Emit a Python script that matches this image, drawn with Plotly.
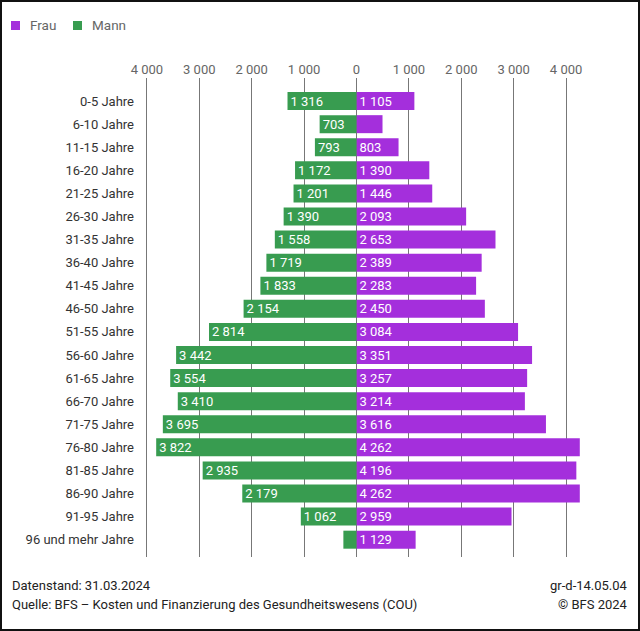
import plotly.graph_objects as go

categories = ["0-5 Jahre", "6-10 Jahre", "11-15 Jahre", "16-20 Jahre", "21-25 Jahre",
              "26-30 Jahre", "31-35 Jahre", "36-40 Jahre", "41-45 Jahre", "46-50 Jahre",
              "51-55 Jahre", "56-60 Jahre", "61-65 Jahre", "66-70 Jahre", "71-75 Jahre",
              "76-80 Jahre", "81-85 Jahre", "86-90 Jahre", "91-95 Jahre", "96 und mehr Jahre"]
mann = [1316, 703, 793, 1172, 1201, 1390, 1558, 1719, 1833, 2154,
        2814, 3442, 3554, 3410, 3695, 3822, 2935, 2179, 1062, 250]
frau = [1105, 497, 803, 1390, 1446, 2093, 2653, 2389, 2283, 2450,
        3084, 3351, 3257, 3214, 3616, 4262, 4196, 4262, 2959, 1129]
tick_vals = [-4000, -3000, -2000, -1000, 0, 1000, 2000, 3000, 4000, 5000]
tick_text = ["4 000", "3 000", "2 000", "1 000", "0", "1 000", "2 000", "3 000", "4 000", ""]
series_names = ["Frau", "Mann"]

GREEN = "#389c50"
PURPLE = "#a42fdc"
FONT = "Roboto"


def fmt(v):
    return f"{v:,}".replace(",", " ") if v >= 600 else ""


fig = go.Figure()
fig.add_trace(go.Bar(
    name=series_names[0], y=categories, x=frau, orientation="h",
    marker=dict(color=PURPLE, line=dict(width=0)),
    text=[fmt(v) for v in frau], textposition="inside", insidetextanchor="start",
    constraintext="none",
    textfont=dict(color="white", size=13, family=FONT), width=0.78,
    hoverinfo="skip", showlegend=False))
fig.add_trace(go.Bar(
    name=series_names[1], y=categories, x=[-v for v in mann], orientation="h",
    marker=dict(color=GREEN, line=dict(width=0)),
    text=[fmt(v) for v in mann], textposition="inside", insidetextanchor="end",
    constraintext="none",
    textfont=dict(color="white", size=13, family=FONT), width=0.78,
    hoverinfo="skip", showlegend=False))

L, R, T, B = 139, 619, 78, 557
W, H = 640, 631
pw, ph = R - L, B - T

def px(x):
    return (x - L) / pw

def py(y):
    return (B - y) / ph

shapes = [dict(type="rect", xref="paper", yref="paper", x0=px(1), x1=px(639), y0=py(630), y1=py(1),
               line=dict(color="#111", width=2), fillcolor="rgba(0,0,0,0)", layer="above")]
annotations = []
# custom legend (square swatches + labels)
for name, color, sx, tx in [(series_names[0], PURPLE, 11, 28), (series_names[1], GREEN, 73, 90)]:
    shapes.append(dict(type="rect", xref="paper", yref="paper", x0=px(sx), x1=px(sx + 9),
                       y0=py(30), y1=py(21), fillcolor=color, line=dict(width=0)))
    annotations.append(dict(text=name, x=px(tx), y=py(25.5), xref="paper", yref="paper",
                            xanchor="left", yanchor="middle", showarrow=False,
                            font=dict(size=13.5, color="#666")))

foot = dict(xref="paper", yref="paper", yanchor="middle", showarrow=False,
            font=dict(size=13, color="#222"))
annotations += [
    dict(text="Datenstand: 31.03.2024", x=px(10), y=py(585), xanchor="left", **foot),
    dict(text="Quelle: BFS – Kosten und Finanzierung des Gesundheitswesens (COU)", x=px(10), y=py(604),
         xanchor="left", **foot),
    dict(text="gr-d-14.05.04", x=px(630), y=py(585), xanchor="right", **foot),
    dict(text="© BFS 2024", x=px(630), y=py(604), xanchor="right", **foot),
]

fig.update_layout(
    width=W, height=H,
    margin=dict(l=L, r=W - R, t=T, b=H - B, pad=0),
    barmode="relative",
    paper_bgcolor="white", plot_bgcolor="white",
    font=dict(family=FONT, size=13, color="#333"),
    showlegend=False,
    xaxis=dict(side="top", range=[-4150, 5010], tickvals=tick_vals, ticktext=tick_text,
               showgrid=True, gridcolor="#777", gridwidth=1, zeroline=True,
               zerolinecolor="#777", zerolinewidth=1, showline=False, ticks="",
               tickfont=dict(size=13, color="#666"), fixedrange=True),
    yaxis=dict(categoryorder="array", categoryarray=categories,
               range=[19.75, -1.0], showgrid=False, zeroline=False, ticks="",
               tickfont=dict(size=13, color="#333"), ticklabelstandoff=4,
               fixedrange=True),
    annotations=annotations,
    shapes=shapes,
)

fig.write_html("out.html", config={"displayModeBar": False},
               post_script="document.body.style.margin='0';document.body.style.overflow='hidden';")
